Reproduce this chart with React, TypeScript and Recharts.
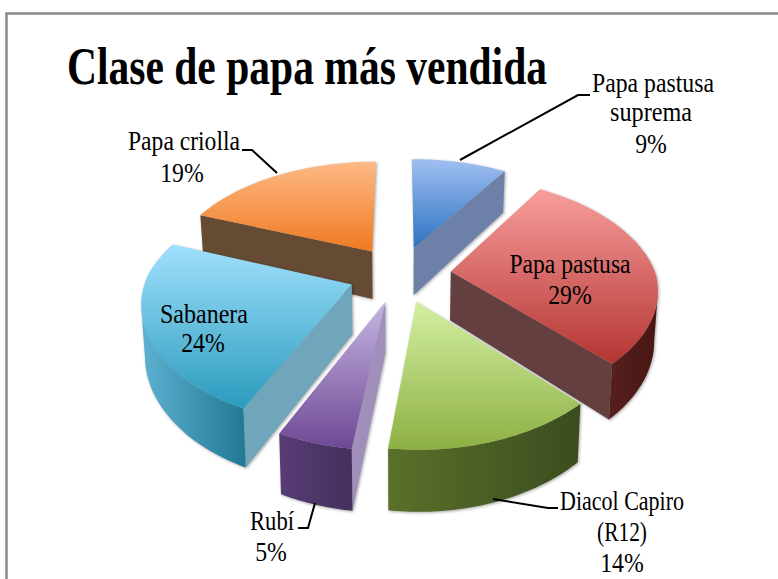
import React from "react";
import { PieChart, Pie } from "recharts";

const categories = ["Papa pastusa suprema", "Papa pastusa", "Diacol Capiro (R12)", "Rubí", "Sabanera", "Papa criolla"];
const values = [9, 29, 14, 5, 24, 19];
const labelLines = [["Papa pastusa", "suprema"], ["Papa pastusa"], ["Diacol Capiro", "(R12)"], ["Rubí"], ["Sabanera"], ["Papa criolla"]];
const topLight = ["#a0bff2", "#f79e9d", "#d3f0a2", "#c6b5e2", "#a0e0fd", "#fdb985"];
const topDark = ["#2c72c0", "#b43431", "#8db043", "#6d4894", "#2b9bbd", "#ef7a20"];
const radialWall = ["#6c80a8", "#643f3f", "#4f6324", "#a08fba", "#6fa6bc", "#654a34"];
const arcLeft = ["#5a6c92", "#56201d", "#5b702a", "#573c76", "#5db2d1", "#6a4c34"];
const arcRight = ["#5a6c92", "#481614", "#3b4c1e", "#44305b", "#207893", "#6a4c34"];
const paintOrder = [0, 5, 1, 4, 3, 2];

const data = categories.map((name, i) => ({ name, value: values[i] }));

const SQUASH = 0.575;
const WIDEN = 1.05;
const PERSPECTIVE = 0.17;
const PERSPECTIVE_X_FRONT = 0.14;
const EXPLODE = 0.25;
const DEPTH = 49;
const BOTTOM_SHRINK = 0.985;

type Pt = [number, number];

const sliceGeometry = (p: any) => {
  const R = p.outerRadius;
  const toRad = (deg: number) => ((90 - deg) * Math.PI) / 180;
  const a0 = toRad(p.startAngle);
  const a1 = toRad(p.endAngle);
  const mid = (a0 + a1) / 2;
  const ex = Math.sin(mid) * EXPLODE;
  const ey = -Math.cos(mid) * EXPLODE;
  const project = (gx: number, gy: number, down: boolean): Pt => {
    const w = 1 / (1 - PERSPECTIVE * gy);
    const wx = gy > 0 ? 1 / (1 - PERSPECTIVE_X_FRONT * gy) : w;
    const dx = R * WIDEN * gx * wx * (down ? BOTTOM_SHRINK : 1);
    return [p.cx + dx, p.cy + R * SQUASH * gy * w + (down ? DEPTH * w : 0)];
  };
  const at = (t: number, down: boolean): Pt => project(ex + Math.sin(t), ey - Math.cos(t), down);
  const steps = 48;
  const angles = Array.from({ length: steps + 1 }, (_, i) => a0 + ((a1 - a0) * i) / steps);
  return { apexTop: project(ex, ey, false), apexBottom: project(ex, ey, true), angles, at };
};

const toPath = (pts: Pt[]) => "M" + pts.map((q) => `${q[0].toFixed(1)},${q[1].toFixed(1)}`).join("L") + "Z";

const sliceLayer = (layer: number) => (props: any) => {
  if (props.name !== categories[layer]) return <g />;
  const { apexTop, apexBottom, angles, at } = sliceGeometry(props);
  const rim = angles.map((t) => at(t, false));
  const first = rim[0];
  const last = rim[rim.length - 1];
  const walls: React.ReactNode[] = [];
  if (first[0] < apexTop[0] - 8) {
    walls.push(<path key="s" d={toPath([apexTop, first, at(angles[0], true), apexBottom])} fill={radialWall[layer]} />);
  }
  if (apexTop[0] < last[0] - 8) {
    walls.push(<path key="e" d={toPath([last, apexTop, apexBottom, at(angles[angles.length - 1], true)])} fill={radialWall[layer]} />);
  }
  const visible = angles.filter((t, i) => {
    const prev = i > 0 && rim[i][0] < rim[i - 1][0];
    const next = i < rim.length - 1 && rim[i + 1][0] < rim[i][0];
    return prev || next;
  });
  return (
    <g style={{ filter: "drop-shadow(1px 1px 1.5px rgba(0,0,0,0.35))" }}>
      <defs>
        <linearGradient id={`top${layer}`} x1="0" y1="0" x2="0" y2="1">
          <stop offset="0" stopColor={topLight[layer]} />
          <stop offset="1" stopColor={topDark[layer]} />
        </linearGradient>
        <linearGradient id={`arc${layer}`} x1="0" y1="0" x2="1" y2="0">
          <stop offset="0" stopColor={arcLeft[layer]} />
          <stop offset="1" stopColor={arcRight[layer]} />
        </linearGradient>
      </defs>
      {walls}
      {visible.length > 1 && (
        <path
          d={toPath([...visible.map((t) => at(t, false)), ...visible.slice().reverse().map((t) => at(t, true))])}
          fill={`url(#arc${layer})`}
        />
      )}
      <path d={toPath([apexTop, ...rim])} fill={`url(#top${layer})`} />
    </g>
  );
};

const lineBaselines = [[92, 121, 153], [273, 304], [510, 541, 572], [530, 561], [323, 352], [150, 182]];
const lineCentres = [[653, 651, 651], [570, 570], [622, 622, 622], [272, 271], [204, 203], [184, 182]];
const lineWidths = [[122, 82], [121], [124, 50], [44], [88], [112]];
const leaders = ["460,160 578,95 590,95", "", "493,499 548,508 558,508", "315,503 308,528 298,528", "", "277,173 252,150 242,150"];
const LABEL_SCALE = 0.88;
const TITLE_SCALE = 0.8;

const labelLayer = (props: any) => {
  const i = categories.indexOf(props.name);
  const pct = labelLines[i].length;
  return (
    <g fontFamily="'Liberation Serif', serif" fontSize={27} fill="#000" textAnchor="middle">
      {leaders[i] && <polyline points={leaders[i]} fill="none" stroke="#000" strokeWidth={2} />}
      {labelLines[i].map((line, k) => (
        <text
          key={k}
          transform={`translate(${lineCentres[i][k]},${lineBaselines[i][k]}) scale(${LABEL_SCALE},1)`}
          textLength={lineWidths[i][k] / LABEL_SCALE}
          lengthAdjust="spacingAndGlyphs"
        >
          {line}
        </text>
      ))}
      <text transform={`translate(${lineCentres[i][pct]},${lineBaselines[i][pct]}) scale(${LABEL_SCALE},1)`}>{`${props.value}%`}</text>
    </g>
  );
};

export default function App() {
  return (
    <div style={{ position: "absolute", left: 0, top: 0, width: 778, height: 579, background: "#fff" }}>
      <PieChart width={778} height={579} margin={{ top: 0, right: 0, bottom: 0, left: 0 }}>
        <rect x={6.5} y={13.5} width={800} height={600} fill="#fff" stroke="#8a8a8a" strokeWidth={2.5} />
        <text
          transform={`translate(67,84) scale(${TITLE_SCALE},1)`}
          fontFamily="'Liberation Serif', serif"
          fontWeight="bold"
          fontSize={52}
          textLength={480 / TITLE_SCALE}
          lengthAdjust="spacingAndGlyphs"
          fill="#000"
        >
          Clase de papa más vendida
        </text>
        {paintOrder.map((layer) => (
          <Pie key={layer} data={data} dataKey="value" nameKey="name" cx={400} cy={274} outerRadius={195} startAngle={90} endAngle={-270} stroke="none" isAnimationActive={false} shape={sliceLayer(layer)} />
        ))}
        <Pie data={data} dataKey="value" nameKey="name" cx={400} cy={274} outerRadius={195} startAngle={90} endAngle={-270} stroke="none" isAnimationActive={false} shape={labelLayer} />
      </PieChart>
    </div>
  );
}
